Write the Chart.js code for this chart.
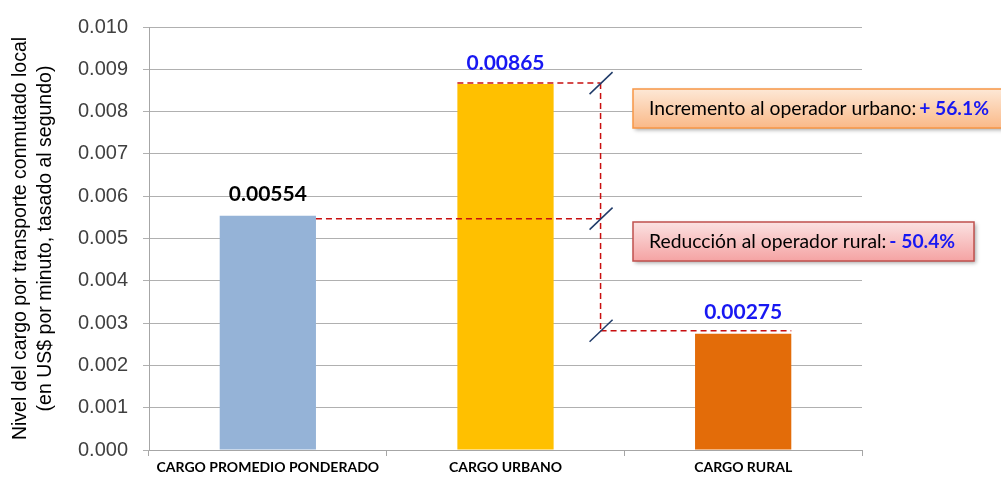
<!DOCTYPE html>
<html>
<head>
<meta charset="utf-8">
<script src="https://cdn.jsdelivr.net/npm/chart.js@4.4.0/dist/chart.umd.min.js"></script>
<style>
  body { margin: 0; background: #fff; }
  #caja { width: 1001px; height: 478px; }
</style>
</head>
<body>
<div id="caja"><canvas id="grafico"></canvas></div>
<script>
let categorias = ['CARGO PROMEDIO PONDERADO', 'CARGO URBANO', 'CARGO RURAL'];
let cargos = [0.00554, 0.00865, 0.00275];
let etiquetas = ['0.00554', '0.00865', '0.00275'];
let colores = ['#95B3D7', '#FFC000', '#E36C09'];
let colores_etiqueta = ['#000000', '#1818F2', '#1818F2'];
let titulo_y = ['Nivel del cargo por transporte conmutado local', '(en US$ por minuto, tasado al segundo)'];
let notas = [
    {texto: 'Incremento al operador urbano: ', valor: '+ 56.1%'},
    {texto: 'Reducción al operador rural: ', valor: '- 50.4%'}
];

// linea vertical entre la 2a y 3a categoria (indice decimal)
let pos_vertical = 1.4;

function linea(ctx, x1, y1, x2, y2){
    ctx.beginPath();
    ctx.moveTo(x1, y1);
    ctx.lineTo(x2, y2);
    ctx.stroke();
}

function caja(ctx, x, y, w, h, arriba, abajo, borde){
    ctx.save();
    ctx.shadowColor = 'rgba(0,0,0,0.35)';
    ctx.shadowBlur = 4;
    ctx.shadowOffsetX = 2;
    ctx.shadowOffsetY = 2;
    let g = ctx.createLinearGradient(0, y, 0, y + h);
    g.addColorStop(0, arriba);
    g.addColorStop(1, abajo);
    ctx.fillStyle = g;
    ctx.fillRect(x, y, w, h);
    ctx.restore();
    ctx.strokeStyle = borde;
    ctx.lineWidth = 1.5;
    ctx.strokeRect(x, y, w, h);
}

function nota(ctx, n, x, y){
    ctx.font = '19.3px Lato';
    ctx.textAlign = 'left';
    ctx.textBaseline = 'middle';
    ctx.fillStyle = '#000000';
    ctx.fillText(n.texto, x, y);
    let w = ctx.measureText(n.texto).width;
    ctx.font = 'bold 19.3px Lato';
    ctx.fillStyle = '#1818F2';
    ctx.fillText(n.valor, x + w - 2, y);
}

let anotaciones = {
    id: 'anotaciones',
    afterDatasetsDraw(chart){
        let ctx = chart.ctx;
        let sx = chart.scales.x;
        let sy = chart.scales.y;
        let barras = chart.getDatasetMeta(0).data;
        let xv = sx.getPixelForValue(pos_vertical);
        let ys = cargos.map(v => sy.getPixelForValue(v));
        ctx.save();

        // lineas rojas punteadas
        ctx.strokeStyle = '#C80F0F';
        ctx.lineWidth = 1.5;
        ctx.setLineDash([6, 4]);
        linea(ctx, barras[0].x + barras[0].width / 2, ys[0] + 3, xv, ys[0] + 3);
        linea(ctx, barras[1].x - barras[1].width / 2, ys[1] - 1, xv, ys[1] - 1);
        linea(ctx, xv, ys[2] - 3, barras[2].x + barras[2].width / 2, ys[2] - 3);
        linea(ctx, xv, ys[1] - 1, xv, ys[2] - 3);
        ctx.setLineDash([]);

        // cortes
        ctx.strokeStyle = '#1F3A68';
        ctx.lineWidth = 1.5;
        [ys[1] - 1, ys[0] + 3, ys[2] - 3].forEach(yy => linea(ctx, xv - 11, yy + 11, xv + 12, yy - 11));

        // valores
        ctx.font = 'bold 21px Lato';
        ctx.textAlign = 'center';
        ctx.textBaseline = 'middle';
        barras.forEach((b, i) => {
            ctx.fillStyle = colores_etiqueta[i];
            ctx.fillText(etiquetas[i], b.x, b.y - 21);
        });

        // recuadros
        let xc = chart.chartArea.right - 229;
        caja(ctx, xc, 89, 372, 39, '#FDE8D6', '#FAB988', '#F79646');
        nota(ctx, notas[0], xc + 16, 109);
        caja(ctx, xc, 222, 341, 39, '#FBE2E2', '#F5A3A3', '#C0504D');
        nota(ctx, notas[1], xc + 16, 242);
        ctx.restore();
    }
};

function grafico(ctx){
    return new Chart(ctx, {
        type: 'bar',
        data: {
            labels: categorias,
            datasets: [{
                data: cargos,
                backgroundColor: colores,
                barPercentage: 0.405,
                categoryPercentage: 1.0
            }]
        },
        options: {
            responsive: true,
            maintainAspectRatio: false,
            animation: false,
            layout: {padding: {top: 23, right: 139, left: 0, bottom: 0}},
            plugins: {
                legend: {display: false},
                tooltip: {enabled: false}
            },
            scales: {
                x: {
                    grid: {drawOnChartArea: false, drawTicks: true, tickLength: 6, color: '#A6A6A6'},
                    border: {color: '#A6A6A6'},
                    ticks: {color: '#000000', font: {family: 'Lato', size: 14, weight: 'bold'}, padding: 3, maxRotation: 0},
                    afterFit(scale){ scale.height = 28; }
                },
                y: {
                    min: 0,
                    max: 0.010,
                    grid: {color: '#B0B0B0', tickLength: 6},
                    border: {color: '#A6A6A6'},
                    ticks: {
                        stepSize: 0.001,
                        color: '#404040',
                        font: {family: 'Liberation Sans', size: 20},
                        padding: 15,
                        callback: v => v.toFixed(3)
                    },
                    title: {
                        display: true,
                        text: titulo_y,
                        color: '#000000',
                        font: {family: 'Liberation Sans', size: 19.5, lineHeight: 1.28},
                        padding: {top: 8, bottom: 0}
                    },
                    afterFit(scale){ scale.width = 149; }
                }
            }
        },
        plugins: [anotaciones]
    });
}

let ctx = document.getElementById('grafico');
let chart = grafico(ctx);
</script>
</body>
</html>
